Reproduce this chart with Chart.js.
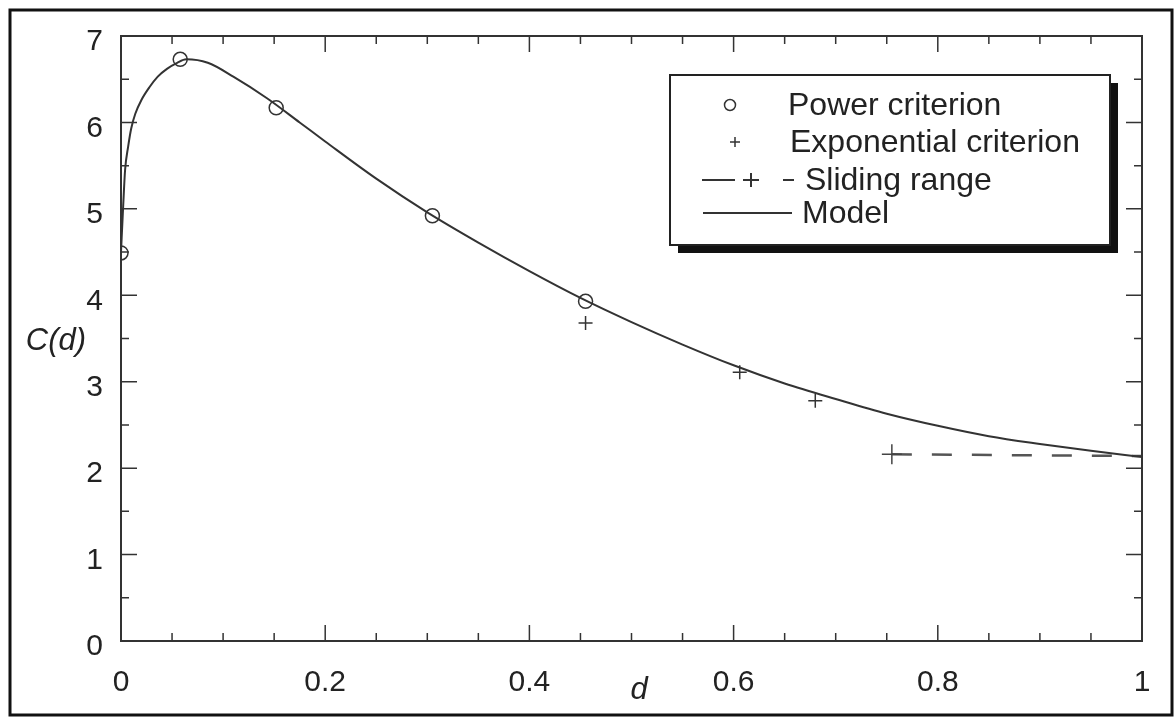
<!DOCTYPE html>
<html>
<head>
<meta charset="utf-8">
<script src="https://cdn.jsdelivr.net/npm/chart.js@4"></script>
<style>
  html, body { margin: 0; padding: 0; background: #fff; }
  #wrap { width: 1175px; height: 721px; position: relative; }
</style>
</head>
<body>
<div id="wrap"><canvas id="chart" width="1175" height="721"></canvas></div>
<script>
// values
const powerX = [0, 0.058, 0.152, 0.305, 0.455];
const powerY = [4.49, 6.73, 6.17, 4.92, 3.93];

const expX = [0.455, 0.606, 0.68];
const expY = [3.68, 3.11, 2.78];

const slideX = [0.755, 1.0];
const slideY = [2.16, 2.14];

const modelX = [0, 0.002, 0.004, 0.007, 0.01, 0.014, 0.02, 0.028, 0.036, 0.045, 0.055, 0.064, 0.085, 0.11, 0.143,
  0.175, 0.2, 0.25, 0.3, 0.35, 0.4, 0.45, 0.5, 0.55, 0.6, 0.65, 0.7, 0.75, 0.8, 0.85, 0.9, 0.95, 1.0];
const modelY = [4.5, 5.0, 5.45, 5.72, 5.93, 6.1, 6.26, 6.41, 6.53, 6.62, 6.69, 6.73, 6.69, 6.53, 6.28,
  6.0, 5.78, 5.35, 4.96, 4.61, 4.28, 3.97, 3.69, 3.43, 3.19, 2.98, 2.8, 2.63, 2.49, 2.37, 2.28, 2.2, 2.13];

const xTickLabels = ['0', '0.2', '0.4', '0.6', '0.8', '1'];
const yTickLabels = ['0', '1', '2', '3', '4', '5', '6', '7'];

const legendItems = ['Power criterion', 'Exponential criterion', 'Sliding range', 'Model'];

const toPts = (xs, ys) => xs.map((x, i) => ({ x, y: ys[i] }));

const FONT = '"Liberation Sans", Arial, sans-serif';
const INK = '#222';

// inward ticks on all four sides, frame, titles and the boxed legend
const frameTicks = {
  id: 'frameTicks',
  afterDraw(chart) {
    const { ctx, chartArea: a, scales: { x, y } } = chart;
    ctx.save();
    ctx.strokeStyle = '#333';
    ctx.lineWidth = 2;
    ctx.strokeRect(a.left, a.top, a.right - a.left, a.bottom - a.top);
    ctx.lineWidth = 1.5;
    ctx.beginPath();
    for (let i = 0; i <= 20; i++) {
      const px = x.getPixelForValue(i * 0.05);
      const len = i % 4 === 0 ? 16 : 8;
      ctx.moveTo(px, a.bottom); ctx.lineTo(px, a.bottom - len);
      ctx.moveTo(px, a.top); ctx.lineTo(px, a.top + len);
    }
    for (let i = 0; i <= 14; i++) {
      const py = y.getPixelForValue(i * 0.5);
      const len = i % 2 === 0 ? 16 : 8;
      ctx.moveTo(a.left, py); ctx.lineTo(a.left + len, py);
      ctx.moveTo(a.right, py); ctx.lineTo(a.right - len, py);
    }
    ctx.stroke();

    // outer figure border
    ctx.lineWidth = 3;
    ctx.strokeStyle = '#111';
    ctx.strokeRect(10, 10, 1162, 705);

    // axis titles
    ctx.fillStyle = INK;
    ctx.font = 'italic 31px ' + FONT;
    ctx.textAlign = 'center';
    ctx.textBaseline = 'middle';
    ctx.fillText('C(d)', 56, 341);
    ctx.fillText('d', 639, 690);

    // legend box with shadow
    const bx = 670, by = 75, bw = 440, bh = 170;
    ctx.fillStyle = '#111';
    ctx.fillRect(bx + 8, by + 8, bw, bh);
    ctx.fillStyle = '#fff';
    ctx.fillRect(bx, by, bw, bh);
    ctx.lineWidth = 2;
    ctx.strokeStyle = '#222';
    ctx.strokeRect(bx, by, bw, bh);

    ctx.font = '32px ' + FONT;
    ctx.textAlign = 'left';
    ctx.fillStyle = INK;
    const rowsY = [105, 142, 180, 213];
    const textX = [788, 790, 805, 802];
    legendItems.forEach((t, i) => ctx.fillText(t, textX[i], rowsY[i] + 1));

    ctx.strokeStyle = '#333';
    ctx.lineWidth = 1.5;
    ctx.beginPath();
    ctx.arc(730, rowsY[0], 5.5, 0, Math.PI * 2);
    ctx.stroke();
    ctx.beginPath();
    ctx.moveTo(730, rowsY[1]); ctx.lineTo(740, rowsY[1]);
    ctx.moveTo(735, rowsY[1] - 5); ctx.lineTo(735, rowsY[1] + 5);
    ctx.stroke();
    ctx.lineWidth = 2;
    ctx.beginPath();
    ctx.moveTo(702, rowsY[2]); ctx.lineTo(735, rowsY[2]);
    ctx.moveTo(743, rowsY[2]); ctx.lineTo(759, rowsY[2]);
    ctx.moveTo(751, rowsY[2] - 7); ctx.lineTo(751, rowsY[2] + 7);
    ctx.moveTo(783, rowsY[2]); ctx.lineTo(794, rowsY[2]);
    ctx.stroke();
    ctx.beginPath();
    ctx.moveTo(703, rowsY[3]); ctx.lineTo(792, rowsY[3]);
    ctx.stroke();
    ctx.restore();
  }
};

new Chart(document.getElementById('chart').getContext('2d'), {
  type: 'scatter',
  data: {
    datasets: [
      {
        label: 'Model',
        type: 'line',
        data: toPts(modelX, modelY),
        borderColor: '#333',
        borderWidth: 2,
        pointRadius: 0,
        cubicInterpolationMode: 'monotone',
        fill: false
      },
      {
        label: 'Sliding range',
        type: 'line',
        data: toPts(slideX, slideY),
        borderColor: '#555',
        borderWidth: 2.5,
        borderDash: [20, 20],
        pointStyle: 'cross',
        pointRadius: [10, 5],
        pointBorderColor: '#444',
        pointBorderWidth: 1.5,
        fill: false
      },
      {
        label: 'Power criterion',
        data: toPts(powerX, powerY),
        pointStyle: 'circle',
        pointRadius: 7,
        pointBackgroundColor: 'rgba(0,0,0,0)',
        pointBorderColor: '#333',
        pointBorderWidth: 1.5
      },
      {
        label: 'Exponential criterion',
        data: toPts(expX, expY),
        pointStyle: 'cross',
        pointRadius: 7,
        pointBorderColor: '#333',
        pointBorderWidth: 1.5
      }
    ]
  },
  options: {
    responsive: false,
    animation: false,
    layout: { padding: { top: 35, right: 33, left: 0, bottom: 0 } },
    plugins: { legend: { display: false }, tooltip: { enabled: false } },
    scales: {
      x: {
        type: 'linear',
        min: 0,
        max: 1,
        afterFit: s => { s.height = 80; },
        afterBuildTicks: s => { s.ticks = xTickLabels.map(t => ({ value: parseFloat(t) })); },
        grid: { display: false, drawTicks: false },
        border: { display: false },
        ticks: {
          padding: 24,
          color: INK,
          font: { family: FONT, size: 30 },
          callback: (v, i) => xTickLabels[i]
        }
      },
      y: {
        type: 'linear',
        min: 0,
        max: 7,
        afterFit: s => { s.width = 121; },
        afterBuildTicks: s => { s.ticks = yTickLabels.map(t => ({ value: parseFloat(t) })); },
        grid: { display: false, drawTicks: false },
        border: { display: false },
        ticks: {
          padding: 18,
          labelOffset: 6,
          color: INK,
          font: { family: FONT, size: 30 },
          callback: (v, i) => yTickLabels[i]
        }
      }
    }
  },
  plugins: [frameTicks]
});
</script>
</body>
</html>
